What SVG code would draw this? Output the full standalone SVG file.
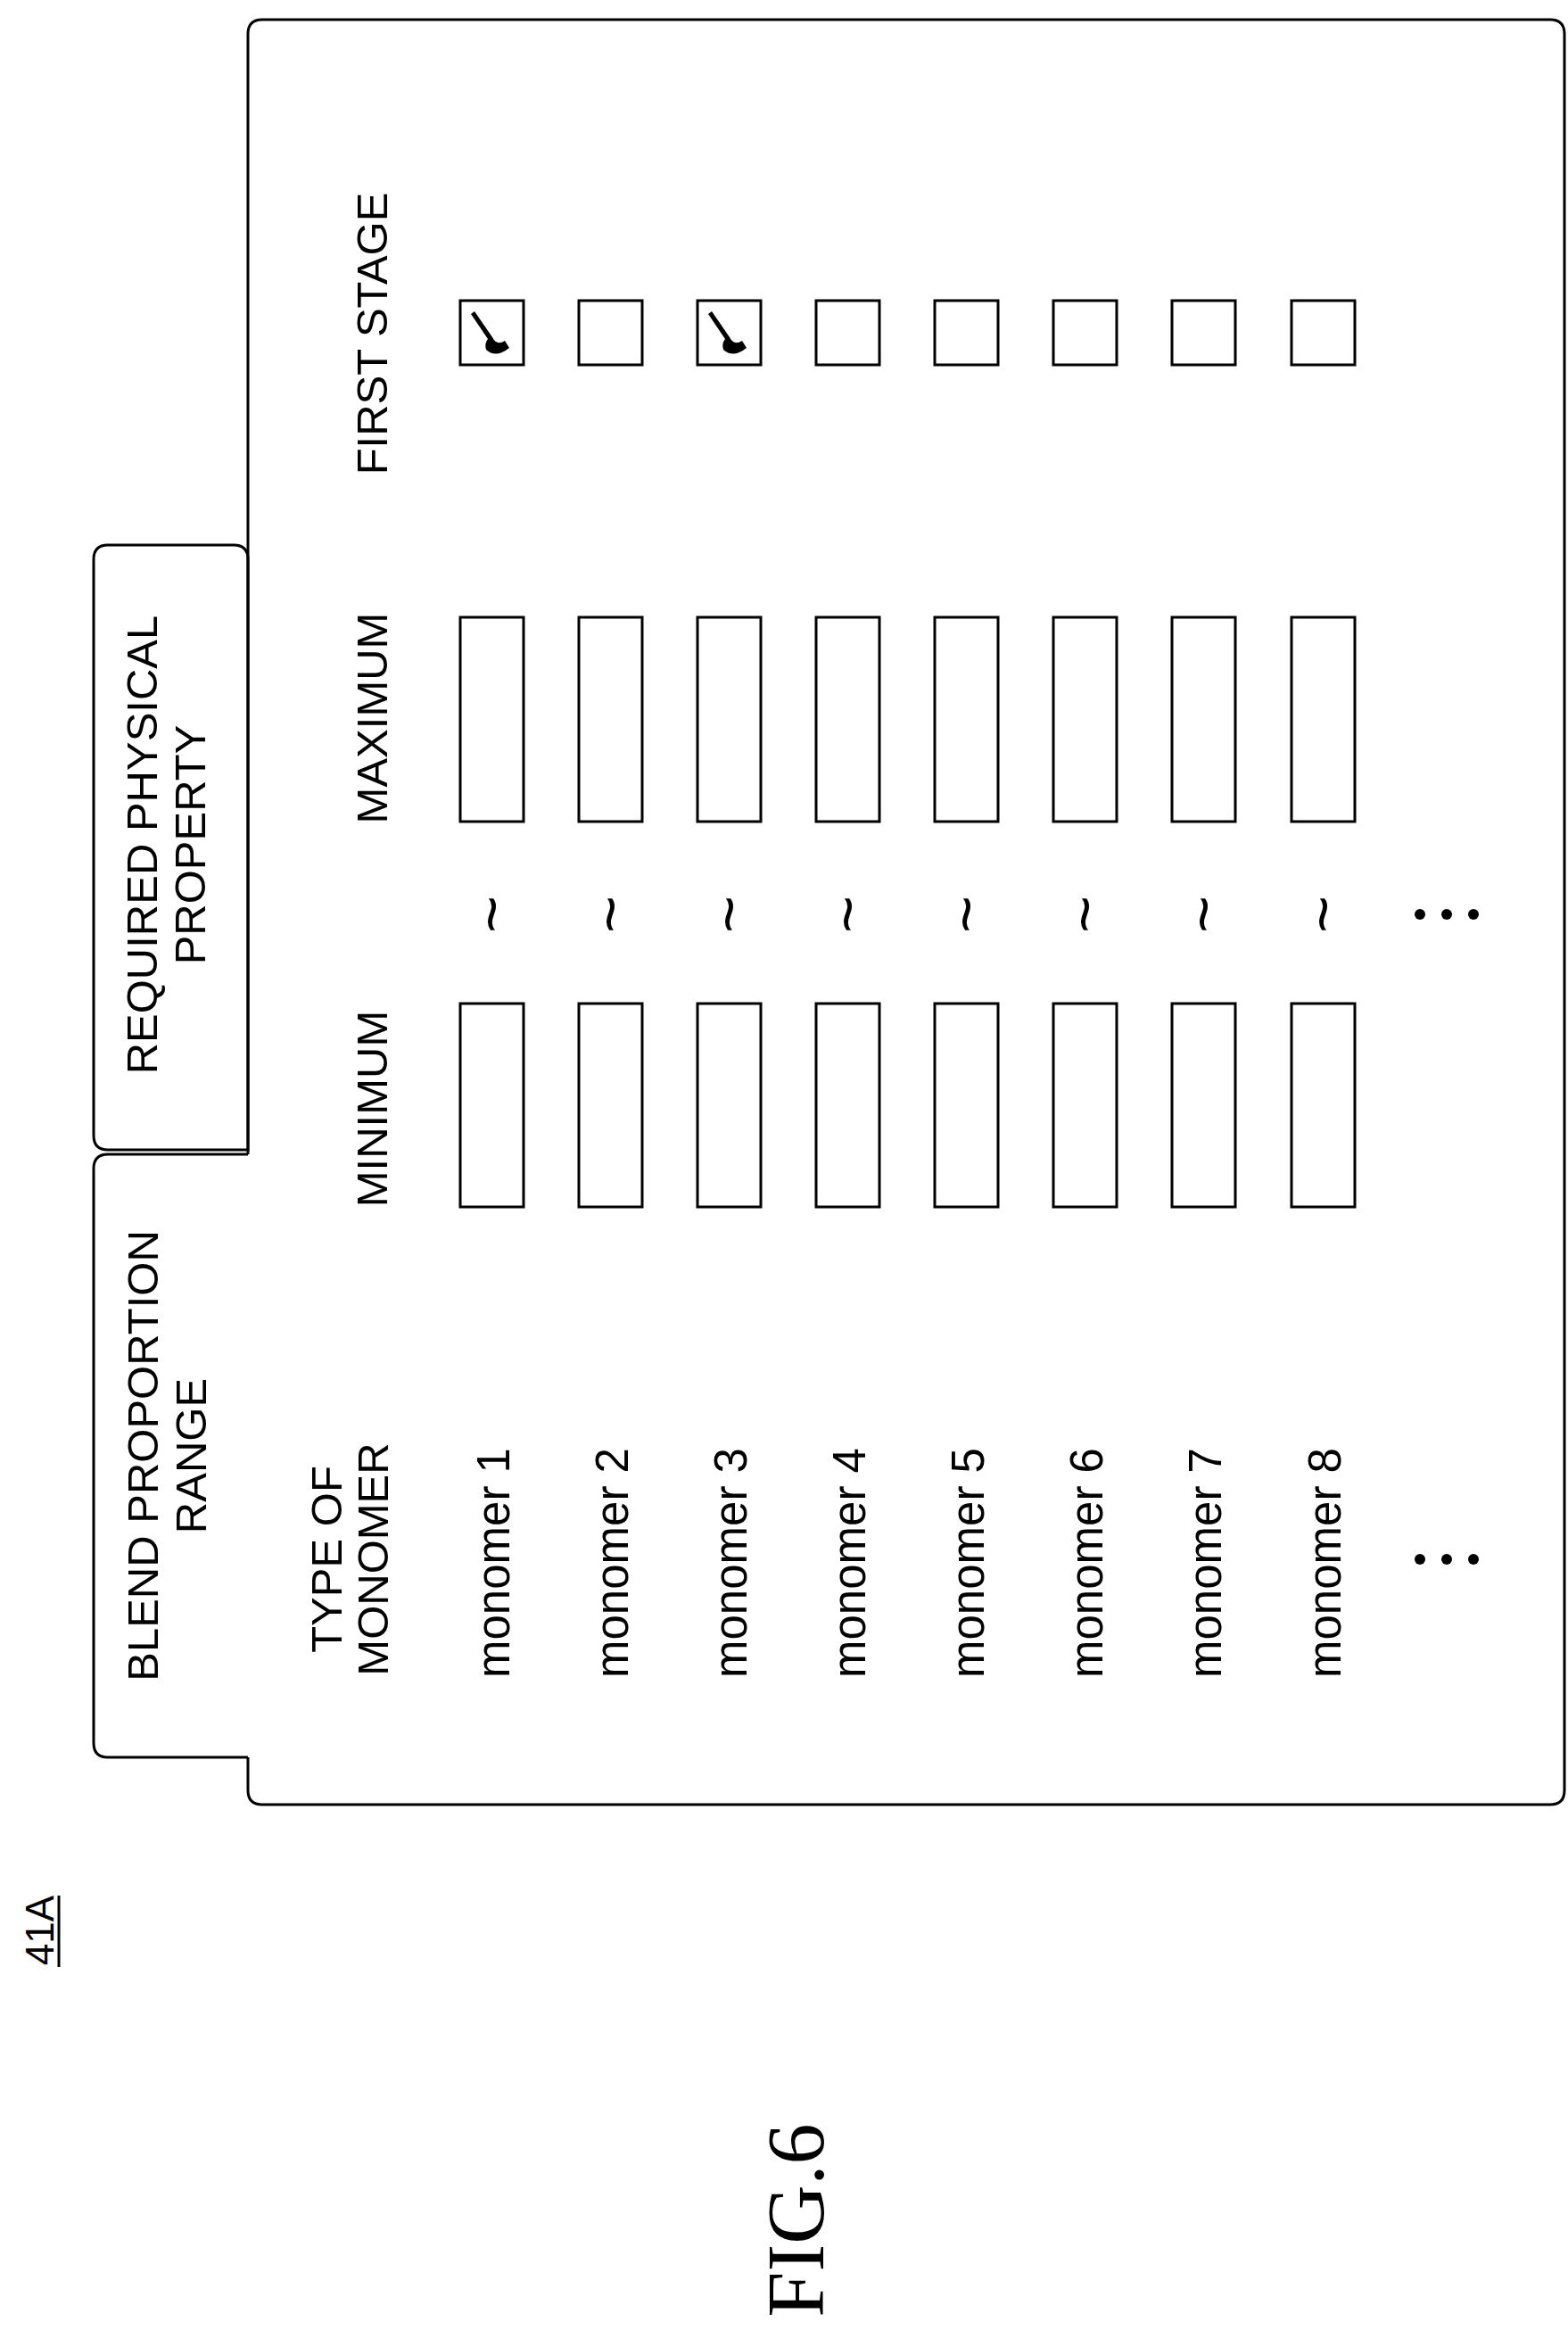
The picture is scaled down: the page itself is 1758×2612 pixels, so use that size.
<svg xmlns="http://www.w3.org/2000/svg" width="1758" height="2612" viewBox="0 0 1758 2612">
<style>
.ln{fill:none;stroke:#000;stroke-width:3}
.t{font-family:"Liberation Sans",Arial,sans-serif;font-size:49px;fill:#000;text-anchor:middle;dominant-baseline:central}
.s{text-anchor:start;font-size:51px}
.tl{font-size:72px}
</style>
<rect width="1758" height="2612" fill="#fff"/>
<g id="panel">
<path class="ln" d="M278,1294 L278,38 Q278,22 294,22 L1738,22 Q1754,22 1754,38 L1754,2007 Q1754,2023 1738,2023 L294,2023 Q278,2023 278,2007 L278,1970"/>
</g>
<g id="tab-required">
<path class="ln" d="M278,1289 L121,1289 Q105,1289 105,1273 L105,627 Q105,611 121,611 L262,611 Q278,611 278,627 Z"/>
<text class="t" transform="translate(159,947) rotate(-90)">REQUIRED PHYSICAL</text>
<text class="t" transform="translate(213,947) rotate(-90)">PROPERTY</text>
</g>
<g id="tab-blend">
<path class="ln" d="M278,1970 L121,1970 Q105,1970 105,1954 L105,1310 Q105,1294 121,1294 L278,1294"/>
<text class="t" transform="translate(160,1632) rotate(-90)">BLEND PROPORTION</text>
<text class="t" transform="translate(214,1632) rotate(-90)">RANGE</text>
</g>
<g id="headers">
<text class="t" transform="translate(417,374) rotate(-90)">FIRST STAGE</text>
<text class="t" transform="translate(417,805) rotate(-90)">MAXIMUM</text>
<text class="t" transform="translate(417,1243) rotate(-90)">MINIMUM</text>
<text class="t" transform="translate(366,1748) rotate(-90)">TYPE OF</text>
<text class="t" transform="translate(418,1748) rotate(-90)">MONOMER</text>
</g>
<g id="rows">
<g id="row1"><rect class="ln" x="516" y="337" width="71" height="72"/><path d="M528,352 L532,349 L552,378 Q557,388 566,382 L571,390 Q556,402 545,392 Q543,385 547,380 Z"/><rect class="ln" x="516" y="692" width="71" height="229"/><text class="t tl" transform="translate(551,1025) rotate(-90)">~</text><rect class="ln" x="516" y="1125" width="71" height="228"/><text class="t s" transform="translate(553,1881) rotate(-90)">monomer 1</text></g>
<g id="row2"><rect class="ln" x="649" y="337" width="71" height="72"/><rect class="ln" x="649" y="692" width="71" height="229"/><text class="t tl" transform="translate(684,1025) rotate(-90)">~</text><rect class="ln" x="649" y="1125" width="71" height="228"/><text class="t s" transform="translate(686,1881) rotate(-90)">monomer 2</text></g>
<g id="row3"><rect class="ln" x="782" y="337" width="71" height="72"/><path d="M794,352 L798,349 L818,378 Q823,388 832,382 L837,390 Q822,402 811,392 Q809,385 813,380 Z"/><rect class="ln" x="782" y="692" width="71" height="229"/><text class="t tl" transform="translate(817,1025) rotate(-90)">~</text><rect class="ln" x="782" y="1125" width="71" height="228"/><text class="t s" transform="translate(819,1881) rotate(-90)">monomer 3</text></g>
<g id="row4"><rect class="ln" x="915" y="337" width="71" height="72"/><rect class="ln" x="915" y="692" width="71" height="229"/><text class="t tl" transform="translate(950,1025) rotate(-90)">~</text><rect class="ln" x="915" y="1125" width="71" height="228"/><text class="t s" transform="translate(952,1881) rotate(-90)">monomer 4</text></g>
<g id="row5"><rect class="ln" x="1048" y="337" width="71" height="72"/><rect class="ln" x="1048" y="692" width="71" height="229"/><text class="t tl" transform="translate(1083,1025) rotate(-90)">~</text><rect class="ln" x="1048" y="1125" width="71" height="228"/><text class="t s" transform="translate(1085,1881) rotate(-90)">monomer 5</text></g>
<g id="row6"><rect class="ln" x="1181" y="337" width="71" height="72"/><rect class="ln" x="1181" y="692" width="71" height="229"/><text class="t tl" transform="translate(1216,1025) rotate(-90)">~</text><rect class="ln" x="1181" y="1125" width="71" height="228"/><text class="t s" transform="translate(1218,1881) rotate(-90)">monomer 6</text></g>
<g id="row7"><rect class="ln" x="1314" y="337" width="71" height="72"/><rect class="ln" x="1314" y="692" width="71" height="229"/><text class="t tl" transform="translate(1349,1025) rotate(-90)">~</text><rect class="ln" x="1314" y="1125" width="71" height="228"/><text class="t s" transform="translate(1351,1881) rotate(-90)">monomer 7</text></g>
<g id="row8"><rect class="ln" x="1448" y="337" width="71" height="72"/><rect class="ln" x="1448" y="692" width="71" height="229"/><text class="t tl" transform="translate(1483,1025) rotate(-90)">~</text><rect class="ln" x="1448" y="1125" width="71" height="228"/><text class="t s" transform="translate(1485,1881) rotate(-90)">monomer 8</text></g>
</g>
<g id="ellipses">
<circle cx="1592" cy="1025" r="6"/><circle cx="1622" cy="1025" r="6"/><circle cx="1652" cy="1025" r="6"/>
<circle cx="1592" cy="1748" r="6"/><circle cx="1622" cy="1748" r="6"/><circle cx="1652" cy="1748" r="6"/>
</g>
<g id="label-41A">
<text class="t" style="font-size:44px" transform="translate(44,2164) rotate(-90)">41A</text>
<line x1="66" y1="2125" x2="66" y2="2205" stroke="#000" stroke-width="3"/>
</g>
<g id="fig-label">
<text class="t" style="font-family:'Liberation Serif','Times New Roman',serif;font-size:92px" transform="translate(892,2489) rotate(-90)">FIG.6</text>
</g>
<g id="connectors"/>
</svg>
